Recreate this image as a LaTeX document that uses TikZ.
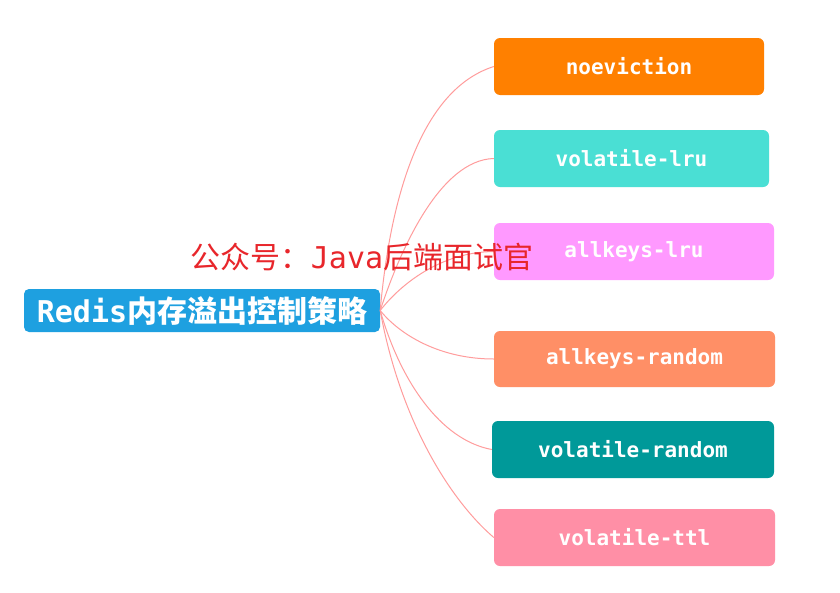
\documentclass[tikz,border=0pt]{standalone}
\usepackage{fontspec}
\newfontfamily\monob{DejaVu Sans Mono}
\newfontfamily\cjk{Noto Sans CJK SC}
\definecolor{cNo}{HTML}{FF8000}
\definecolor{cVl}{HTML}{4ADFD4}
\definecolor{cAl}{HTML}{FF99FF}
\definecolor{cAr}{HTML}{FF8F66}
\definecolor{cVr}{HTML}{009999}
\definecolor{cVt}{HTML}{FF8FA6}
\definecolor{cRoot}{HTML}{1EA0E0}
\definecolor{cLink}{HTML}{FF9C9C}
\definecolor{cMark}{HTML}{E8262B}
\tikzset{
  leaf/.style={rounded corners=6pt, inner sep=0pt, minimum height=57pt,
    text=white, font=\monob\bfseries\fontsize{21pt}{23pt}\selectfont},
  rootbox/.style={rounded corners=5pt, inner sep=0pt, minimum width=356pt,
    minimum height=43pt, fill=cRoot, text=white},
  link/.style={draw=cLink, line width=1pt},
}
\begin{document}
\begin{tikzpicture}[x=1pt,y=-1pt]
\useasboundingbox (0,0) rectangle (840,592);
\fill[white] (0,0) rectangle (840,592);
% leaves
\node[leaf, fill=cNo, minimum width=270pt] (n1) at (629,66.5) {noeviction};
\node[leaf, fill=cVl, minimum width=275pt] (n2) at (631.5,158.5) {volatile-lru};
\node[leaf, fill=cAl, minimum width=280pt] (n3) at (634,251.5) {allkeys-lru};
\node[leaf, fill=cAr, minimum width=281pt, minimum height=56pt] (n4) at (634.5,359) {allkeys-random};
\node[leaf, fill=cVr, minimum width=282pt] (n5) at (633,449.5) {volatile-random};
\node[leaf, fill=cVt, minimum width=281pt] (n6) at (634.5,537.5) {volatile-ttl};
% root
\node[rootbox] (r) at (202,310.5) {{\monob\bfseries\fontsize{30pt}{32pt}\selectfont Redis}{\cjk\bfseries\fontsize{30pt}{32pt}\selectfont 内存溢出控制策略}};
% connectors
\draw[link] (r.east) .. controls (390,200) and (420,90) .. (n1.west);
\draw[link] (r.east) .. controls (400,250) and (440,160) .. (n2.west);
\draw[link] (r.east) .. controls (400,285) and (440,252) .. (n3.west);
\draw[link] (r.east) .. controls (400,335) and (440,359) .. (n4.west);
\draw[link] (r.east) .. controls (400,380) and (440,440) .. (n5.west);
\draw[link] (r.east) .. controls (400,420) and (450,500) .. (n6.west);
% watermark
\node[inner sep=0pt, text=cMark] (wm) at (362,257) {{\cjk\fontsize{30pt}{32pt}\selectfont 公众号：}{\monob\fontsize{30pt}{32pt}\selectfont Java}{\cjk\fontsize{30pt}{32pt}\selectfont 后端面试官}};
\end{tikzpicture}
\end{document}
